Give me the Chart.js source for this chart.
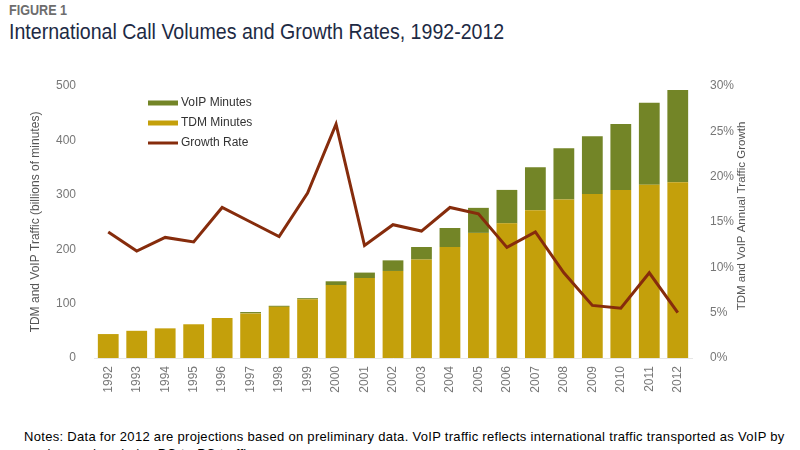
<!DOCTYPE html>
<html>
<head>
<meta charset="utf-8">
<script src="https://cdn.jsdelivr.net/npm/chart.js@4.4.1/dist/chart.umd.min.js"></script>
<style>
  body{margin:0;width:800px;height:450px;overflow:hidden;background:#fff;font-family:"Liberation Sans",Arial,sans-serif;position:relative;}
  #fig{position:absolute;left:9px;top:2px;font-size:14px;font-weight:bold;color:#6d6d6d;transform:scaleX(0.9);transform-origin:left top;}
  #title{position:absolute;left:9px;top:19px;font-size:22px;color:#1d2a44;white-space:nowrap;transform:scaleX(0.89);transform-origin:left top;}
  #wrap{position:absolute;left:0;top:0;width:800px;height:400px;}
  #notes{position:absolute;left:24px;top:428px;font-size:13px;letter-spacing:0.3px;color:#000;line-height:17px;white-space:nowrap;}
</style>
</head>
<body>
<div id="fig">FIGURE 1</div>
<div id="title">International Call Volumes and Growth Rates, 1992-2012</div>
<div id="wrap"><canvas id="chart"></canvas></div>
<div id="notes">Notes: Data for 2012 are projections based on preliminary data. VoIP traffic reflects international traffic transported as VoIP by<br>carriers and excludes PC-to-PC traffic.</div>
<script>
var years=["1992","1993","1994","1995","1996","1997","1998","1999","2000","2001","2002","2003","2004","2005","2006","2007","2008","2009","2010","2011","2012"];
var tdmMinutes=[44,50,54.5,62,73.5,82,94,108,134,147,160,181,204,230,247.5,271.5,291.5,301.5,309,318.5,323];
var voipMinutes=[0,0,0,0,0,2.5,2,2,7,10,19.5,23,35,46,61.5,79,94,106,121,150.5,169.5];
var growthRate=[13.9,11.8,13.3,12.8,16.6,15.0,13.4,18.2,25.8,12.4,14.7,14.0,16.6,15.9,12.2,13.9,9.4,5.8,5.5,9.4,5.0];
var rightTitle="TDM and VoIP Annual Traffic Growth";

var legendPlugin={
  id: "boxLegend",
  afterDraw: function(chart){
    var ctx=chart.ctx;
    var items=[
      {ds: chart.data.datasets[1], w: 5},
      {ds: chart.data.datasets[0], w: 5},
      {ds: chart.data.datasets[2], w: 3}
    ];
    ctx.save();
    ctx.font="12px 'Liberation Sans', Arial, sans-serif";
    ctx.textBaseline="middle";
    items.forEach(function(it, i){
      var y=103+i*20;
      ctx.strokeStyle=it.ds.type=="line" ? it.ds.borderColor : it.ds.backgroundColor;
      ctx.lineWidth=it.w;
      ctx.beginPath();
      ctx.moveTo(148, y);
      ctx.lineTo(178, y);
      ctx.stroke();
      ctx.fillStyle="#333";
      ctx.fillText(it.ds.label, 181, y);
    });
    // right axis title, reading bottom to top like the left one
    var area=chart.chartArea;
    ctx.translate(742, (area.top+area.bottom)/2-6);
    ctx.rotate(-Math.PI/2);
    ctx.textAlign="center";
    ctx.fillStyle="#555";
    ctx.font="11.5px 'Liberation Sans', Arial, sans-serif";
    ctx.fillText(rightTitle, 0, 0);
    ctx.restore();
  }
};

var tickFont={family: "'Liberation Sans', Arial, sans-serif", size: 12};
new Chart(document.getElementById("chart").getContext("2d"), {
  data: {
    labels: years,
    datasets: [
      {type: "bar", label: "TDM Minutes", data: tdmMinutes, backgroundColor: "#c4a00b", yAxisID: "y", order: 1, barPercentage: 0.73, categoryPercentage: 1},
      {type: "bar", label: "VoIP Minutes", data: voipMinutes, backgroundColor: "#738527", yAxisID: "y", order: 1, barPercentage: 0.73, categoryPercentage: 1},
      {type: "line", label: "Growth Rate", data: growthRate, borderColor: "#862c0c", borderWidth: 3, pointRadius: 0, tension: 0, fill: false, yAxisID: "y1", order: 0}
    ]
  },
  options: {
    responsive: true,
    maintainAspectRatio: false,
    animation: false,
    layout: {padding: {top: 86, left: 28, right: 48, bottom: 0}},
    plugins: {legend: {display: false}, tooltip: {enabled: false}},
    scales: {
      x: {
        stacked: true,
        grid: {display: false, drawTicks: false},
        border: {display: true, color: "#e6e6e6"},
        ticks: {color: "#777", font: tickFont, minRotation: 90, maxRotation: 90, autoSkip: false, padding: 8},
        afterFit: function(s){ s.height=42; }
      },
      y: {
        stacked: true,
        position: "left",
        min: 0, max: 500,
        grid: {display: false},
        border: {display: false},
        ticks: {stepSize: 100, color: "#777", font: tickFont, padding: 10},
        title: {display: true, text: "TDM and VoIP Traffic (billions of minutes)", color: "#555", font: tickFont, padding: 0},
        afterFit: function(s){ s.width=66; }
      },
      y1: {
        position: "right",
        min: 0, max: 30,
        grid: {display: false},
        border: {display: false},
        ticks: {stepSize: 5, color: "#777", font: tickFont, padding: 10, callback: function(v){ return v+"%"; }},
        afterFit: function(s){ s.width=60; }
      }
    }
  },
  plugins: [legendPlugin]
});
</script>
</body>
</html>
